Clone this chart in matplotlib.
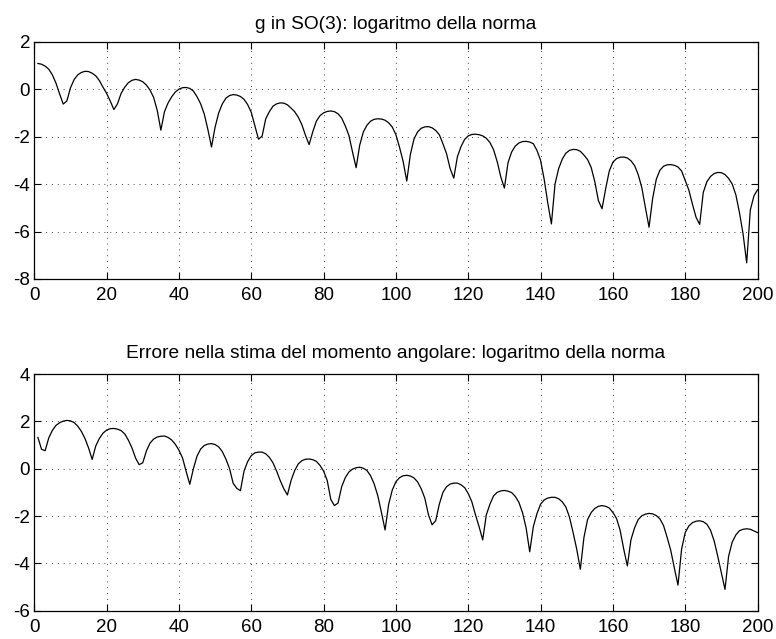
import matplotlib
matplotlib.use("Agg")
import matplotlib.pyplot as plt
import numpy as np

plt.rcParams['font.family'] = ['Liberation Sans', 'DejaVu Sans']
plt.rcParams['axes.unicode_minus'] = False

title_top = "g in SO(3): logaritmo della norma"
title_bottom = "Errore nella stima del momento angolare: logaritmo della norma"

x_values = list(range(1, 201))
xticks = [0, 20, 40, 60, 80, 100, 120, 140, 160, 180, 200]
yticks_top = [-8, -6, -4, -2, 0, 2]
yticks_bottom = [-6, -4, -2, 0, 2, 4]

g_norm_log = [
    1.08, 1.05, 0.97, 0.84, 0.60, 0.25, -0.20, -0.63,
    -0.50, 0.05, 0.40, 0.60, 0.70, 0.75, 0.74, 0.67, 0.56, 0.36, 0.08, -0.18, -0.50, -0.86,
    -0.62, -0.18, 0.08, 0.27, 0.37, 0.41, 0.38, 0.31, 0.17, -0.04, -0.35, -0.90, -1.73,
    -0.95, -0.58, -0.32, -0.12, 0.00, 0.06, 0.07, 0.03, -0.08, -0.32, -0.62, -1.05, -1.70, -2.44,
    -1.60, -1.00, -0.62, -0.38, -0.27, -0.23, -0.25, -0.31, -0.43, -0.65, -0.98, -1.55, -2.11,
    -1.98, -1.25, -0.95, -0.72, -0.62, -0.58, -0.59, -0.66, -0.80, -0.95, -1.18, -1.50, -1.95, -2.34,
    -1.80, -1.35, -1.12, -1.00, -0.94, -0.92, -0.95, -1.04, -1.22, -1.55, -1.95, -2.65, -3.31,
    -2.35, -1.80, -1.52, -1.35, -1.27, -1.25, -1.26, -1.31, -1.42, -1.60, -1.92, -2.45, -3.05, -3.87,
    -2.75, -2.10, -1.80, -1.65, -1.59, -1.58, -1.63, -1.74, -1.92, -2.30, -2.72, -3.35, -3.75,
    -2.85, -2.42, -2.12, -1.97, -1.91, -1.90, -1.92, -1.97, -2.07, -2.25, -2.55, -3.05, -3.70, -4.17,
    -3.10, -2.65, -2.40, -2.27, -2.21, -2.20, -2.23, -2.30, -2.58, -3.00, -3.80, -4.80, -5.68,
    -4.00, -3.35, -2.95, -2.70, -2.58, -2.54, -2.55, -2.62, -2.78, -2.97, -3.30, -3.90, -4.70, -5.04,
    -4.20, -3.45, -3.08, -2.93, -2.87, -2.86, -2.90, -3.02, -3.22, -3.60, -4.15, -5.00, -5.82,
    -4.60, -3.80, -3.42, -3.25, -3.19, -3.18, -3.21, -3.28, -3.45, -3.85, -4.25, -4.85, -5.40, -5.70,
    -4.35, -3.90, -3.68, -3.56, -3.51, -3.52, -3.60, -3.76, -4.00, -4.45, -5.20, -6.10, -7.32,
    -5.10, -4.50, -4.24,
]

momentum_err_log = [
    1.32, 0.82, 0.76, 1.30, 1.62, 1.83, 1.94, 2.01, 2.04, 2.02, 1.95, 1.80, 1.58, 1.28, 0.88, 0.39,
    0.96, 1.28, 1.50, 1.63, 1.69, 1.70, 1.67, 1.61, 1.47, 1.21, 0.88, 0.45, 0.17,
    0.25, 0.75, 1.08, 1.25, 1.34, 1.37, 1.38, 1.32, 1.21, 1.03, 0.78, 0.45, -0.12, -0.66,
    0.00, 0.53, 0.83, 0.98, 1.04, 1.06, 1.02, 0.92, 0.72, 0.40, 0.00, -0.62, -0.83, -0.93,
    -0.10, 0.30, 0.55, 0.67, 0.70, 0.70, 0.63, 0.48, 0.25, -0.10, -0.50, -0.85, -1.11,
    -0.50, -0.08, 0.20, 0.34, 0.40, 0.41, 0.38, 0.31, 0.14, -0.10, -0.50, -1.30, -1.56,
    -1.45, -0.76, -0.38, -0.14, -0.02, 0.04, 0.06, 0.02, -0.08, -0.30, -0.65, -1.15, -1.85, -2.59,
    -1.50, -0.90, -0.55, -0.38, -0.30, -0.28, -0.31, -0.39, -0.56, -0.85, -1.25, -1.95, -2.37,
    -2.20, -1.50, -1.00, -0.76, -0.65, -0.61, -0.61, -0.68, -0.80, -1.05, -1.40, -1.95, -2.45, -3.01,
    -1.95, -1.50, -1.15, -1.00, -0.94, -0.92, -0.95, -1.01, -1.17, -1.42, -1.85, -2.50, -3.51,
    -2.45, -1.90, -1.50, -1.32, -1.24, -1.21, -1.21, -1.27, -1.40, -1.62, -2.05, -2.70, -3.40, -4.25,
    -2.90, -2.15, -1.85, -1.68, -1.59, -1.56, -1.59, -1.66, -1.85, -2.10, -2.60, -3.40, -4.11,
    -3.00, -2.50, -2.15, -1.99, -1.92, -1.89, -1.91, -1.98, -2.12, -2.40, -2.90, -3.45, -4.20, -4.92,
    -3.40, -2.70, -2.42, -2.28, -2.22, -2.20, -2.24, -2.35, -2.60, -3.05, -3.70, -4.40, -5.10,
    -3.70, -3.10, -2.80, -2.62, -2.56, -2.54, -2.56, -2.63, -2.70,
]

fig = plt.figure(figsize=(7.76, 6.39), dpi=100)
ax1 = fig.add_axes([0.0442, 0.5634, 0.932, 0.3714])
ax2 = fig.add_axes([0.0442, 0.0443, 0.932, 0.3704])

def style(ax, yticks, title, pad):
    ax.set_xlim(0, 200)
    ax.set_ylim(yticks[0], yticks[-1])
    ax.set_xticks(xticks)
    ax.set_yticks(yticks)
    ax.set_xticklabels([str(t) for t in xticks])
    ax.set_yticklabels([str(t) for t in yticks])
    ax.tick_params(direction='in', length=5, width=0.8, top=True, right=True,
                   labelsize=13.5, colors='black')
    ax.tick_params(axis='x', pad=6)
    ax.tick_params(axis='y', pad=3)
    ax.grid(True, color='black', linewidth=0.6, linestyle=(0, (1, 6)))
    for s in ax.spines.values():
        s.set_linewidth(0.9)
        s.set_color('black')
    ax.set_title(title, fontsize=13.8, pad=pad)

ax1.plot(x_values, g_norm_log, color='black', linewidth=0.9)
style(ax1, yticks_top, title_top, 9)
ax2.plot(x_values, momentum_err_log, color='black', linewidth=0.9)
style(ax2, yticks_bottom, title_bottom, 11.5)

fig.savefig("out.png", dpi=100)
